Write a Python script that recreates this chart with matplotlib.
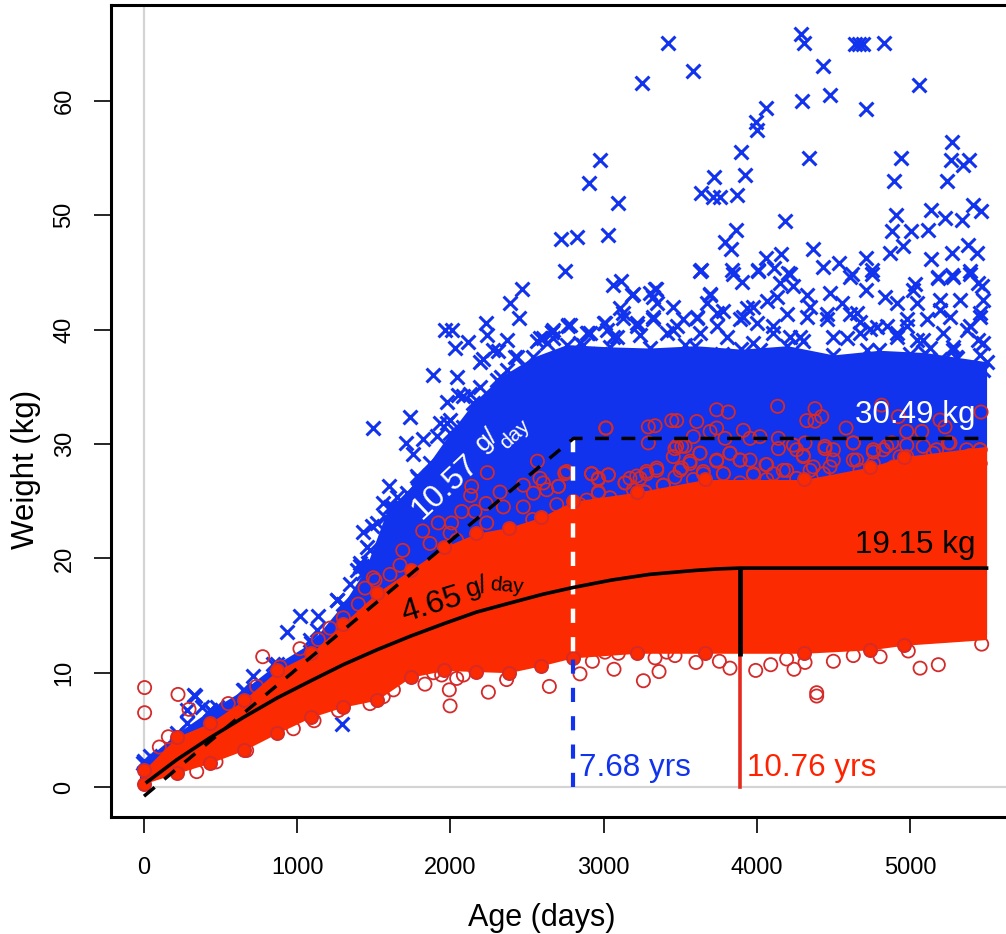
import matplotlib
matplotlib.use('Agg')
import matplotlib.pyplot as plt

plt.rcParams['font.family'] = ['Liberation Sans', 'DejaVu Sans']

blue = '#1133ee'
red_fill = '#fb2a00'
red_edge = '#d42a2a'

# dense part of the two clouds, read as upper and lower edge
blue_age = [-30, 0, 215, 430, 650, 870, 1090, 1300, 1430, 1460, 1570, 1790, 2000, 2150, 2330, 2540, 2760, 3040, 3300, 3600, 3900, 4200, 4500, 4800, 5100, 5300, 5500]
blue_top = [1.5, 2.3, 4.7, 6.7, 8.5, 10.8, 12.6, 16.0, 18.7, 19.6, 23.6, 27.0, 31.0, 33.6, 35.9, 37.6, 38.7, 38.5, 38.4, 38.6, 38.3, 38.6, 37.8, 38.2, 38.0, 37.6, 37.2]
blue_low = [0.3, 0.5, 1.8, 2.8, 3.9, 5.4, 6.9, 7.8, 8.4, 8.6, 9.6, 10.8, 11.0, 11.0, 11.0, 11.0, 11.6, 12.2, 12.2, 12.2, 12.2, 12.3, 12.5, 12.8, 13.0, 13.2, 13.4]

red_age = [-30, 0, 215, 430, 650, 870, 1090, 1300, 1520, 1740, 1960, 2170, 2380, 2590, 2800, 3220, 3660, 4310, 4740, 4960, 5500]
red_top = [0.6, 1.5, 4.4, 5.6, 7.6, 10.2, 11.7, 14.3, 17.0, 19.0, 21.0, 22.2, 22.7, 23.6, 25.0, 25.8, 26.9, 26.9, 28.0, 28.9, 29.8]
red_low = [0.3, 0.3, 1.2, 2.1, 3.2, 4.7, 6.1, 7.0, 7.6, 9.6, 10.2, 10.1, 10.0, 10.6, 11.3, 11.7, 11.7, 11.7, 12.0, 12.4, 12.9]

# single points sticking out of the clouds
x_age = [3422, 3253, 3581, 4289, 4308, 4641, 4669, 4695, 4832, 4434, 5059, 4478, 4297, 4713, 4058, 3995, 4003, 3895, 3923, 3721,
         3634, 3712, 3760, 3869, 2979, 2902, 3092, 3029, 2722, 2824, 2750, 4343, 4941, 5272, 5266, 5344, 5385, 4898, 5239, 4184,
         4907, 5137, 5228, 5413, 5461, 5341, 3862, 3792, 3829, 4880, 5005, 5120, 4869, 4957, 4369, 4156, 4058, 4713, 5135, 5272,
         5381, 5436, 3634, 3836, 4010, 4114, 4206, 4434, 4537, 4620, 4754, 5185, 5283, 5392, 3059, 3114, 3340, 3303, 3190, 3901,
         3694, 5032, 5468, 1965, 2008, 2117, 2030, 2230, 2241, 2367, 2769, 2661, 2563, 2389, 2465, 2450, 1884, 2041, 1980, 2052,
         1493, 1736, 1708, 1758, 1823, 1976, 1601, 1431, 1486, 1475, 1421, 1627, 2193, 2313, 2421, 2193, 933, 1018, 326, 1294,
         333, 283, 1138, 1258, 376, 2781, 2670, 2911, 3020, 3127, 3216, 3453, 3610, 3740, 3975, 3890, 4020, 4328, 4458, 4654,
         4785, 4980, 5196, 5372, 5457, 5477, 5281, 5085, 4915, 4674, 4497, 4282, 4106, 3805, 3518, 3322, 3087, 2846, 2630]
x_weight = [65.06, 61.6, 62.6, 65.85, 65.06, 65.0, 65.0, 65.0, 65.06, 63.1, 61.4, 60.5, 60.04, 59.3, 59.4, 58.2, 57.5, 55.5, 53.5, 53.4,
            52.0, 51.6, 51.6, 51.8, 54.8, 52.8, 51.1, 48.3, 47.9, 48.1, 45.1, 55.05, 55.05, 56.4, 54.8, 54.4, 54.85, 53.0, 53.0, 49.5,
            50.0, 50.5, 49.75, 50.9, 50.4, 49.6, 48.7, 47.7, 47.1, 48.6, 48.6, 48.7, 46.7, 47.3, 47.1, 46.6, 46.3, 46.3, 46.2, 46.7,
            47.4, 46.7, 45.2, 45.2, 45.2, 45.4, 45.0, 45.5, 45.8, 44.9, 45.2, 44.6, 44.6, 45.1, 43.9, 44.3, 43.6, 43.2, 43.1, 44.2,
            43.1, 44.0, 43.8, 40.0, 40.0, 38.9, 38.4, 40.6, 39.5, 39.1, 40.4, 39.8, 39.0, 42.3, 43.6, 41.0, 36.0, 35.9, 33.7, 34.3,
            31.4, 32.4, 30.1, 29.1, 30.4, 31.8, 26.3, 22.3, 22.8, 20.7, 19.3, 24.5, 37.2, 38.1, 37.6, 35.0, 13.6, 15.0, 8.05, 5.5,
            8.0, 6.7, 15.0, 16.4, 7.0, 40.4, 39.3, 39.7, 40.0, 41.5, 40.6, 40.0, 41.0, 41.5, 42.0, 40.9, 38.2, 41.1, 40.9, 41.5,
            40.2, 40.9, 41.7, 40.0, 41.5, 38.8, 38.2, 39.1, 39.7, 39.7, 39.4, 39.4, 39.7, 39.4, 40.9, 40.9, 39.4, 38.8, 38.8]

# crosses of the rough upper fringe
fringe_age = [2770, 2661, 2607, 2890, 3009, 3188, 3336, 3325, 3107, 3129, 3216, 3325, 3455, 3477, 3347, 3695, 3673, 3612, 3782, 3934,
              4065, 3912, 3999, 3738, 3629, 3532, 3412, 3238, 3064, 2868, 3847, 4010, 3629, 3978, 3771, 2977, 4151, 4217, 4325, 4238,
              4130, 4195, 4347, 4478, 4608, 4750, 4713, 4554, 4608, 4456, 4674, 4739, 4587, 4837, 5022, 4913, 5043, 5185, 5272, 5392,
              5326, 5196, 5446, 5479, 5457, 5261, 5109, 4978, 4848, 4913, 5043, 5217, 5392, 5446, 5283, 5130, 5000, 4717, 4304, 4217,
              4108, 5457, 5305, 5479, 5196, 4674, 4434, 2128, 2085, 2280, 2367, 2433, 2498, 2585, 2672, 2901, 3000, 2215, 2302, 1932,
              1998, 2085, 1911, 1606, 1562, 1649, 1715, 1780, 1867, 1519, 1454, 1410, 1388, 1497, -4, 39, 278, 431, 474, 648,
              714, 844, 1084, 1127, 1258, 1345, 1410]
fringe_weight = [40.3, 39.8, 39.3, 39.7, 40.6, 43.0, 43.6, 42.9, 41.9, 41.0, 40.3, 41.1, 42.0, 40.3, 42.3, 43.0, 42.3, 41.1, 41.6, 41.9,
                 42.5, 41.1, 40.6, 40.3, 39.7, 38.7, 39.7, 39.5, 39.4, 38.7, 44.9, 45.1, 45.1, 38.8, 37.9, 37.9, 44.1, 44.9, 43.0, 43.8,
                 42.9, 41.4, 42.0, 43.2, 44.6, 44.9, 43.5, 42.3, 41.4, 41.4, 40.7, 40.1, 39.3, 42.9, 43.5, 42.3, 42.3, 44.5, 44.8, 44.9,
                 42.6, 42.6, 44.1, 42.6, 41.1, 41.1, 40.9, 40.3, 40.3, 39.4, 39.1, 39.7, 40.3, 39.1, 38.5, 38.4, 37.9, 38.2, 39.0, 39.4,
                 40.3, 37.8, 37.5, 36.5, 37.4, 36.8, 37.1, 34.4, 34.2, 38.2, 36.5, 37.6, 35.9, 39.3, 40.0, 39.7, 40.6, 37.4, 35.6, 31.8,
                 32.1, 31.5, 30.7, 24.5, 24.8, 25.4, 25.7, 27.2, 28.3, 23.1, 21.0, 19.6, 19.0, 18.7, 2.1, 2.7, 5.6, 6.7, 7.0, 8.5,
                 9.7, 10.8, 12.9, 13.7, 16.4, 17.8, 19.3]

o_age = [3016, 3292, 3336, 3445, 3477, 3608, 3738, 3814, 4136, 4380, 4326, 4424, 4380, 4583, 4815, 4924, 5196, 5229, 5464, 3292,
         3912, 3695, 3738, 3586, 3793, 3956, 4021, 4141, 4141, 4239, 4315, 4445, 4630, 4979, 5077, 4881, 4761, 5251, 5457, 2922,
         2966, 3031, 2748, 3347, 3281, 3216, 3140, 3466, 3510, 3629, 3564, 3499, 3738, 3825, 3891, 4065, 4304, 4500, 4630, 4826,
         2966, 3270, 3390, 3978, 3782, 3651, 4173, 4348, 4478, 4761, 4979, 5174, 5457, 5370, 2241, 2568, 3014, 2139, 2132, 2233,
         2074, 2161, 2324, 2476, 2585, 2748, 2922, 2705, 2542, 2476, 2346, 2537, 1921, 2008, 2237, 1819, 1689, 1867, 2041, 1671,
         1606, 1998, 1497, 4, 4, 222, 294, 775, 159, 100, 550, 735, 1018, 888, 1138, 1214, 1301, 1399, 1443, 1508,
         344, 470, 670, 975, 1110, 1269, 1475, 1628, 1834, 1993, 1998, 1943, 2248, 2367, 2085, 1562, 2041, 1889, 2646, 2846,
         2927, 3068, 3260, 3362, 3336, 3466, 3603, 3756, 3825, 3993, 4091, 4243, 4315, 4391, 4391, 4500, 4630, 4805, 5066, 5185,
         4989, 5468, 3009, 3096, 3412, 4195]
o_weight = [31.4, 31.5, 31.6, 32.05, 32.05, 31.97, 33.0, 32.8, 33.3, 33.1, 32.05, 32.4, 32.0, 31.4, 33.4, 32.4, 32.1, 31.5, 32.8, 30.1,
            31.2, 31.1, 31.4, 30.65, 30.5, 30.5, 30.65, 30.5, 29.6, 29.9, 30.1, 29.6, 30.1, 31.1, 31.1, 30.1, 29.3, 30.1, 29.5, 27.4,
            27.0, 27.3, 27.4, 27.9, 27.4, 27.2, 26.6, 29.6, 29.8, 29.2, 28.3, 27.7, 28.6, 29.2, 28.6, 28.2, 28.9, 29.5, 28.6, 29.5,
            25.8, 25.8, 26.4, 27.4, 27.4, 27.4, 27.7, 27.7, 28.0, 28.3, 28.9, 29.5, 28.3, 29.5, 27.5, 28.5, 31.4, 26.3, 25.5, 24.8,
            24.1, 24.1, 25.8, 26.4, 27.0, 27.5, 27.4, 26.3, 25.7, 24.5, 24.5, 23.4, 23.1, 23.1, 23.1, 22.4, 20.7, 21.3, 21.6, 19.4,
            18.6, 22.2, 18.3, 8.7, 6.5, 8.1, 6.8, 11.4, 4.4, 3.5, 7.3, 8.8, 12.1, 10.5, 12.9, 13.9, 14.8, 16.0, 17.4, 18.1,
            1.35, 2.2, 3.2, 5.1, 5.8, 6.7, 7.3, 8.5, 9.0, 8.5, 7.1, 9.8, 8.3, 9.4, 9.8, 7.9, 9.5, 10.0, 8.8, 9.9,
            11.0, 10.3, 9.3, 10.1, 11.3, 11.5, 10.9, 11.0, 10.4, 10.2, 10.7, 10.3, 10.9, 8.25, 7.96, 11.0, 11.5, 11.4, 10.4, 10.7,
            11.9, 12.5, 11.8, 11.7, 11.8, 11.2]

# circles crowding the top of the red cloud
ring_age = [3477, 3532, 3455, 3629, 3564, 3738, 3825, 3891, 3956, 4060, 4304, 4260, 4445, 4630, 4761, 4848, 4979, 5087, 5261, 5457,
            5392, 5153, 4935, 4652, 4500, 4369, 4195, 4108, 3978, 3782, 3651, 3510, 3347, 3281, 3238, 3172, 3140, 3270, 2966, 3031,
            2922, 2966, 3390, 3466, 3586, 3891, 4065, 4260, 4435, 4674, 4892, 5196, 5457, 2890, 2694, 2629, 2705, 2759, 2607, 2846,
            3042, 3194]
ring_weight = [29.8, 29.8, 28.9, 29.2, 28.5, 28.5, 29.2, 28.6, 28.6, 28.2, 29.0, 29.5, 29.8, 30.1, 29.5, 29.8, 29.9, 29.8, 30.1, 29.5,
               29.0, 29.2, 28.9, 28.6, 28.6, 28.0, 27.7, 27.4, 27.3, 27.4, 27.6, 27.9, 27.7, 27.6, 27.0, 27.0, 26.6, 25.8, 25.7, 27.3,
               27.4, 26.9, 26.4, 27.1, 26.9, 26.6, 26.9, 27.0, 27.4, 27.7, 28.0, 28.3, 28.3, 25.1, 24.7, 26.0, 26.3, 27.6, 26.6, 24.7,
               25.3, 26.0]

# fitted lines
male_age = [0, 2803, 5500]
male_weight = [-0.8, 30.49, 30.49]
female_age = [20, 215, 430, 650, 870, 1090, 1300, 1520, 1740, 1960, 2170, 2390, 2600, 2800, 3050, 3300, 3600, 3750, 3890, 5500]
female_weight = [0.44, 2.4, 4.3, 6.1, 7.8, 9.3, 10.7, 12.0, 13.2, 14.3, 15.3, 16.1, 16.85, 17.45, 18.1, 18.6, 18.95, 19.08, 19.15, 19.15]

xticks = [0, 1000, 2000, 3000, 4000, 5000]
yticks = [0, 10, 20, 30, 40, 50, 60]

fig = plt.figure(figsize=(10.06, 9.34), dpi=100)
ax = fig.add_axes([111 / 1006, (934 - 817) / 934, (1012 - 111) / 1006, (817 - 5) / 934])

ax.plot([0, 0], [0, 70], color='#d4d4d4', lw=1.6, zorder=1)
ax.plot([0, 6000], [0, 0], color='#d4d4d4', lw=1.6, zorder=1)

ax.fill_between(blue_age, blue_low, blue_top, color=blue, lw=0, zorder=2)
ax.scatter(x_age, x_weight, marker='x', s=100, color=blue, linewidths=2.2, zorder=3)
ax.scatter(fringe_age, fringe_weight, marker='x', s=100, color=blue, linewidths=2.2, zorder=3)
ax.scatter(blue_age[1:], blue_top[1:], marker='x', s=100, color=blue, linewidths=2.2, zorder=3)

ax.scatter(o_age, o_weight, marker='o', s=90, facecolors='none', edgecolors=red_edge, linewidths=1.3, zorder=4)
ax.scatter(ring_age, ring_weight, marker='o', s=90, facecolors='none', edgecolors=red_edge, linewidths=1.3, zorder=4)
ax.fill_between(red_age, red_low, red_top, color=red_fill, lw=0, zorder=5)
ax.scatter(red_age[1:-1], red_low[1:-1], marker='o', s=90, facecolors=red_fill, edgecolors=red_edge, linewidths=1.3, zorder=5)
ax.scatter(red_age[1:-1], red_top[1:-1], marker='o', s=90, facecolors=red_fill, edgecolors=red_edge, linewidths=1.3, zorder=5)

ax.plot([2803, 2803], [0, 11.3], color=blue, lw=3.0, dashes=(3.4, 3.4), zorder=6)
ax.plot([2803, 2803], [30.49, 10.8], color='white', lw=3.2, dashes=(3.2, 3.2), zorder=6)
ax.plot([3890, 3890], [0, 11.5], color='#e62a1e', lw=2.6, zorder=6)
ax.plot([3890, 3890], [11.5, 19.15], color='black', lw=3.4, solid_capstyle='butt', zorder=7)
ax.plot(male_age, male_weight, color='black', lw=2.5, dashes=(4, 3.6), zorder=7)
ax.plot(female_age, female_weight, color='black', lw=2.6, zorder=7)

ax.text(1965, 26.25, '10.57', color='white', fontsize=23, rotation=43, ha='center', va='center', zorder=8)
ax.text(2239, 30.4, 'g/', color='white', fontsize=19, rotation=43, ha='center', va='center', zorder=8)
ax.text(2421, 30.8, 'day', color='white', fontsize=15, rotation=43, ha='center', va='center', zorder=8)
ax.text(1880, 15.9, '4.65', color='black', fontsize=23, rotation=17, ha='center', va='center', zorder=8)
ax.text(2175, 17.5, 'g/', color='black', fontsize=19, rotation=17, ha='center', va='center', zorder=8)
ax.text(2370, 17.6, 'day', color='black', fontsize=15, rotation=-5, ha='center', va='center', zorder=8)
ax.text(5033, 32.5, '30.49 kg', color='white', fontsize=22.6, ha='center', va='center', zorder=8)
ax.text(5033, 21.2, '19.15 kg', color='black', fontsize=22.6, ha='center', va='center', zorder=8)
ax.text(2840, 1.65, '7.68 yrs', color=blue, fontsize=22.6, ha='left', va='center', zorder=8)
ax.text(3935, 1.65, '10.76 yrs', color='#ff2200', fontsize=22.6, ha='left', va='center', zorder=8)

ax.set_xlim(-215.4, 5666)
ax.set_ylim(-2.62, 68.4)
ax.set_xticks(xticks)
ax.set_yticks(yticks)
ax.tick_params(axis='x', length=11.5, width=1.2, labelsize=17, pad=17)
ax.tick_params(axis='y', length=12, width=1.2, labelsize=17, pad=13.5)
for label in ax.get_yticklabels():
    label.set_rotation(90)
    label.set_va('center')
ax.set_xlabel('Age (days)', fontsize=22, va='center')
ax.set_ylabel('Weight (kg)', fontsize=22.5, va='center')
ax.xaxis.set_label_coords((541.5 - 111) / 901, -(918 - 817) / 812)
ax.yaxis.set_label_coords(-(111 - 26) / 901, (817 - 469) / 812)
for spine in ax.spines.values():
    spine.set_linewidth(2.2)

fig.savefig('out.png', dpi=100)
